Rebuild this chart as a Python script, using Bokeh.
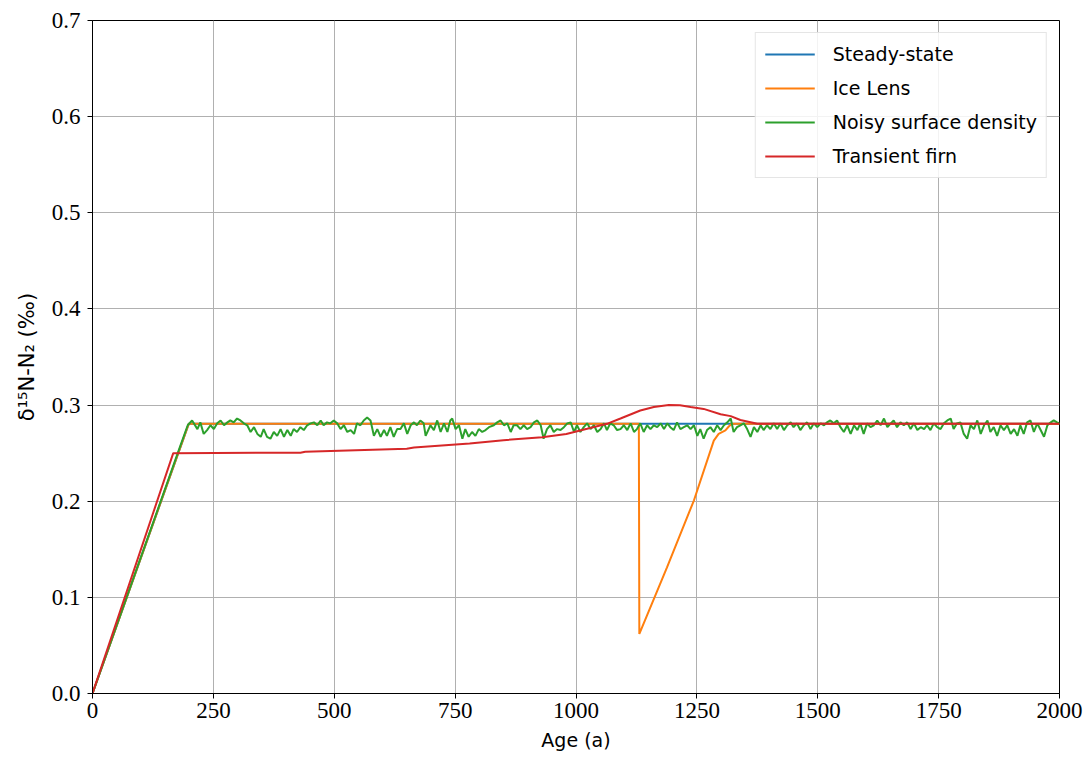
from bokeh.plotting import figure
from bokeh.models import FixedTicker, Legend, LegendItem, PrintfTickFormatter, Range1d
from bokeh.embed import file_html
from bokeh.resources import INLINE

# ---------------- data ----------------
ss_age = [0, 199, 2000]
ss_val = [0.0, 0.2805, 0.2805]

ice_age = [0, 199, 1130, 1131, 1188, 1244, 1285, 1295, 1309, 1316, 1322, 2000]
ice_val = [0.0, 0.2805, 0.2805, 0.062, 0.131, 0.201, 0.263, 0.270, 0.2736, 0.2777, 0.2805, 0.2805]

# noisy surface density: (age, value) pairs
noisy_start = [(0, 0.0), (182, 0.258), (197, 0.279)]
noisy_a = [(206, 0.284), (217, 0.275), (223, 0.282), (230, 0.270), (237, 0.274), (244, 0.279),
           (251, 0.275), (258, 0.281), (265, 0.284), (272, 0.279), (279, 0.282), (285, 0.284),
           (292, 0.282), (299, 0.286), (306, 0.284), (313, 0.281), (320, 0.279), (327, 0.272),
           (334, 0.277), (341, 0.270), (348, 0.267), (354, 0.275), (361, 0.267), (368, 0.265),
           (375, 0.272), (382, 0.268), (389, 0.275), (396, 0.267), (403, 0.274), (410, 0.268),
           (416, 0.275), (423, 0.272), (430, 0.277), (437, 0.274), (444, 0.279), (451, 0.281),
           (458, 0.282), (465, 0.279), (472, 0.284), (478, 0.279), (485, 0.282), (492, 0.281),
           (499, 0.284), (506, 0.281), (513, 0.275), (520, 0.279), (527, 0.272), (534, 0.274),
           (541, 0.270), (547, 0.281), (554, 0.279), (561, 0.284), (568, 0.287), (575, 0.284),
           (582, 0.268), (589, 0.275), (596, 0.267), (603, 0.274), (609, 0.268), (616, 0.277),
           (623, 0.267), (630, 0.275)]
noisy_b = [(637, 0.275), (644, 0.281), (651, 0.270), (658, 0.279), (665, 0.282), (671, 0.279),
           (678, 0.284), (685, 0.281), (689, 0.268), (699, 0.279), (706, 0.274), (713, 0.284),
           (720, 0.272), (727, 0.281), (734, 0.272), (740, 0.284), (744, 0.286), (751, 0.275),
           (758, 0.279), (765, 0.265), (771, 0.275), (778, 0.267), (785, 0.272), (792, 0.268),
           (799, 0.275), (806, 0.272), (813, 0.274), (820, 0.277), (830, 0.279), (837, 0.282),
           (844, 0.284), (851, 0.279), (858, 0.281), (865, 0.272), (871, 0.279), (878, 0.279),
           (885, 0.275), (892, 0.279), (899, 0.275), (906, 0.277), (913, 0.282), (920, 0.284),
           (927, 0.279), (933, 0.265), (940, 0.275), (947, 0.279), (954, 0.272), (961, 0.275),
           (968, 0.274), (975, 0.277), (982, 0.281), (989, 0.282), (996, 0.272), (1002, 0.279),
           (1009, 0.272), (1016, 0.277), (1023, 0.281), (1030, 0.275), (1037, 0.279),
           (1044, 0.272), (1051, 0.275), (1058, 0.281), (1064, 0.274), (1071, 0.281),
           (1078, 0.279), (1085, 0.274)]
noisy_c = [(1092, 0.275), (1099, 0.279), (1106, 0.274), (1113, 0.281), (1120, 0.272),
           (1126, 0.275), (1133, 0.281), (1140, 0.272), (1147, 0.279), (1154, 0.275),
           (1161, 0.279), (1168, 0.277), (1175, 0.281), (1182, 0.275), (1189, 0.281),
           (1195, 0.277), (1202, 0.274), (1209, 0.282), (1216, 0.275), (1223, 0.277),
           (1230, 0.279), (1237, 0.275), (1244, 0.279), (1251, 0.268), (1257, 0.275),
           (1264, 0.265), (1271, 0.274), (1278, 0.277), (1285, 0.272), (1292, 0.279),
           (1299, 0.274), (1306, 0.279), (1313, 0.282), (1320, 0.286), (1326, 0.272),
           (1333, 0.277), (1340, 0.279), (1347, 0.281), (1354, 0.275), (1361, 0.267),
           (1368, 0.277), (1375, 0.272), (1382, 0.279), (1388, 0.274), (1395, 0.279),
           (1402, 0.275), (1409, 0.281), (1416, 0.275), (1423, 0.281), (1430, 0.274),
           (1437, 0.279), (1444, 0.282), (1450, 0.277), (1457, 0.281), (1464, 0.274),
           (1471, 0.279), (1478, 0.282), (1485, 0.275), (1492, 0.281), (1499, 0.277),
           (1506, 0.281), (1513, 0.279), (1519, 0.282), (1526, 0.284), (1533, 0.281),
           (1540, 0.284)]
noisy_d = [(1547, 0.277), (1554, 0.272), (1561, 0.279), (1568, 0.270), (1575, 0.279),
           (1582, 0.274), (1588, 0.281), (1595, 0.270), (1602, 0.281), (1609, 0.277),
           (1616, 0.279), (1623, 0.284), (1630, 0.279), (1637, 0.286), (1644, 0.277),
           (1651, 0.281), (1657, 0.284), (1664, 0.277), (1671, 0.282), (1678, 0.279),
           (1685, 0.282), (1692, 0.275), (1699, 0.281), (1706, 0.274), (1713, 0.277),
           (1720, 0.275), (1726, 0.279), (1733, 0.274), (1740, 0.281), (1747, 0.277),
           (1754, 0.275), (1761, 0.281), (1768, 0.284), (1775, 0.286), (1781, 0.275),
           (1788, 0.281), (1795, 0.282), (1802, 0.270), (1809, 0.265), (1816, 0.279),
           (1823, 0.275), (1830, 0.284), (1837, 0.270), (1844, 0.279), (1851, 0.284),
           (1857, 0.272), (1864, 0.277), (1871, 0.268), (1878, 0.279), (1885, 0.274),
           (1892, 0.279), (1899, 0.270), (1906, 0.275), (1913, 0.268), (1919, 0.279),
           (1926, 0.270), (1933, 0.282), (1940, 0.284), (1947, 0.272), (1954, 0.281),
           (1961, 0.274), (1968, 0.267), (1975, 0.279), (1982, 0.282), (1988, 0.284),
           (1995, 0.282), (2000, 0.281)]

tr_age = [0, 167, 430, 440, 650, 665, 780, 850, 930, 980, 1023, 1064, 1092, 1133, 1161,
          1192, 1215, 1237, 1264, 1299, 1320, 1340, 1361, 1375, 2000]
tr_val = [0.0, 0.250, 0.2505, 0.2515, 0.2545, 0.2558, 0.2600, 0.2635, 0.2665, 0.2700,
          0.2753, 0.2805, 0.2860, 0.2944, 0.2980, 0.3000, 0.2998, 0.2980, 0.2960, 0.2905,
          0.2885, 0.2845, 0.2822, 0.2805, 0.2805]

series_names = ["Steady-state", "Ice Lens", "Noisy surface density", "Transient firn"]
series_colors = ["#1f77b4", "#ff7f0e", "#2ca02c", "#d62728"]

x_ticks = [0, 250, 500, 750, 1000, 1250, 1500, 1750, 2000]
y_ticks = [0.0, 0.1, 0.2, 0.3, 0.4, 0.5, 0.6, 0.7]

noisy_pairs = noisy_start + noisy_a + noisy_b + noisy_c + noisy_d
noisy_age = [a for a, _ in noisy_pairs]
noisy_val = [v for _, v in noisy_pairs]

# ---------------- figure ----------------
p = figure(width=1086, height=761, output_backend="svg", toolbar_location=None,
           x_range=Range1d(0, 2000), y_range=Range1d(0, 0.7),
           min_border_left=92, min_border_right=27, min_border_top=20, min_border_bottom=68)
p.background_fill_color = "white"
p.border_fill_color = "white"
p.outline_line_color = "black"
p.outline_line_width = 1

data = [(ss_age, ss_val), (ice_age, ice_val), (noisy_age, noisy_val), (tr_age, tr_val)]
renderers = []
for (xs, ys), c in zip(data, series_colors):
    r = p.line(xs, ys, line_color=c, line_width=2)
    renderers.append(r)

p.xaxis.ticker = FixedTicker(ticks=x_ticks)
p.yaxis.ticker = FixedTicker(ticks=y_ticks)
p.yaxis.formatter = PrintfTickFormatter(format="%.1f")

for ax in (p.xaxis, p.yaxis):
    ax.axis_line_color = "black"
    ax.major_tick_line_color = "black"
    ax.major_tick_out = 5
    ax.major_tick_in = 0
    ax.minor_tick_line_color = None
    ax.major_label_text_font = "Liberation Serif"
    ax.major_label_text_font_size = "23px"
    ax.major_label_text_color = "black"
    ax.axis_label_text_font = "DejaVu Sans"
    ax.axis_label_text_font_size = "19px"
    ax.axis_label_text_font_style = "normal"
    ax.axis_label_text_color = "black"

p.xaxis.major_label_standoff = 4
p.yaxis.major_label_standoff = 7
p.xaxis.axis_label = "Age (a)"
p.yaxis.axis_label = "δ¹⁵N-N₂ (‰)"
p.yaxis.axis_label_text_font_size = "21px"
p.xaxis.axis_label_standoff = 8
p.yaxis.axis_label_standoff = 10

p.xgrid.grid_line_color = "#b0b0b0"
p.ygrid.grid_line_color = "#b0b0b0"
p.xgrid.grid_line_width = 1
p.ygrid.grid_line_width = 1

legend = Legend(items=[LegendItem(label=n, renderers=[r]) for n, r in zip(series_names, renderers)],
                location="top_right")
legend.margin = 12
legend.padding = 9
legend.spacing = 10
legend.glyph_width = 50
legend.glyph_height = 24
legend.label_height = 24
legend.label_standoff = 18
legend.label_text_font = "DejaVu Sans"
legend.label_text_font_size = "19px"
legend.label_text_color = "black"
legend.border_line_color = "#cccccc"
legend.border_line_width = 1
legend.background_fill_alpha = 0.85
p.add_layout(legend, "center")

open("out.html", "w").write(file_html(p, INLINE))
